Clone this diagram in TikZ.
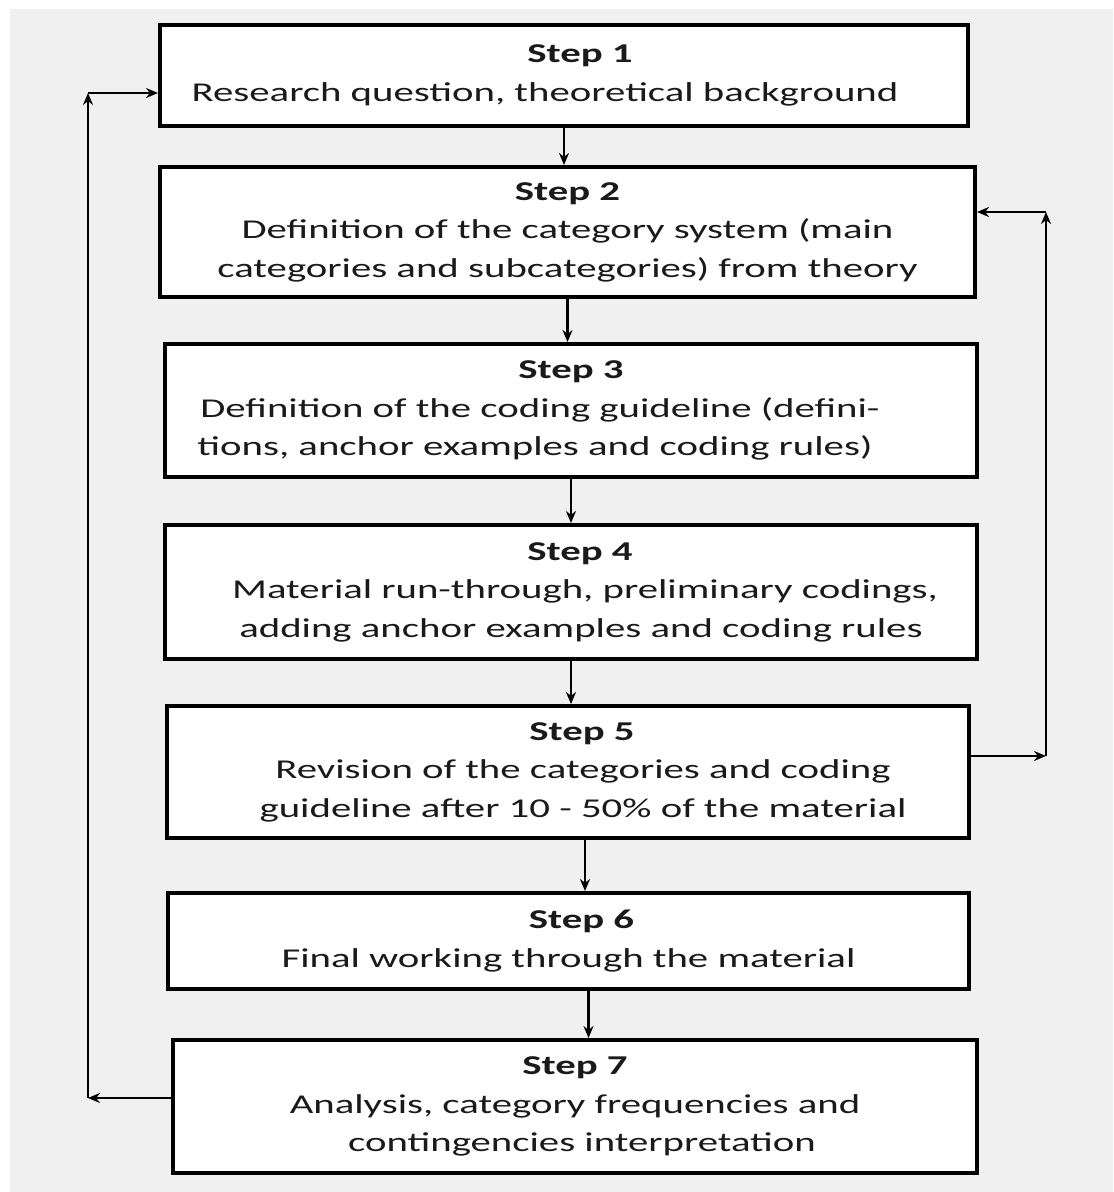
\documentclass[tikz,border=0pt]{standalone}
\usepackage{fontspec}
\setmainfont{Carlito}[FakeStretch=1.5]
\usetikzlibrary{arrows.meta}
\definecolor{bggray}{HTML}{F0F0F0}
\definecolor{txtgray}{HTML}{1A1A1A}
\tikzset{
  stepbox/.style={draw,line width=2pt,fill=white,inner sep=0pt,align=center,
    text=txtgray,font=\fontsize{13.6}{19.25}\selectfont},
  flow/.style={->,line width=1.2pt}
}
\newcommand{\lsh}[1]{\hbox to #1{}}
\begin{document}
\begin{tikzpicture}[>={Stealth[length=6pt,width=5pt]},x=0.5pt,y=-0.5pt]
		\fill[white] (0,0) rectangle (1113,1192);
		\fill[bggray] (10,9) rectangle (1113,1192);
		\node[stepbox,minimum width=404pt,minimum height=50.5pt] (s1) at (564,75.5) {\lsh{16pt}\textbf{Step 1}\\Research question, theoretical background\lsh{19pt}};
		\node[stepbox,minimum width=407.5pt,minimum height=65pt] (s2) at (567.5,232) {\textbf{Step 2}\\Definition of the category system (main\\categories and subcategories) from theory};
		\node[stepbox,minimum width=406pt,minimum height=66.5pt] (s3) at (571,410.5) {\textbf{Step 3}\\Definition of the coding guideline (defini-\lsh{31pt}\\tions, anchor examples and coding rules)\lsh{36pt}};
		\node[stepbox,minimum width=406pt,minimum height=67pt] (s4) at (571,592) {\lsh{9pt}\textbf{Step 4}\\\lsh{14pt}Material run-through, preliminary codings,\\\lsh{10pt}adding anchor examples and coding rules};
		\node[stepbox,minimum width=401pt,minimum height=66pt] (s5) at (568,772) {\lsh{14pt}\textbf{Step 5}\\\lsh{15pt}Revision of the categories and coding\\\lsh{15pt}guideline after 10 - 50\% of the material};
		\node[stepbox,minimum width=400.5pt,minimum height=48pt] (s6) at (568.5,941) {\lsh{13pt}\textbf{Step 6}\\Final working through the material};
		\node[stepbox,minimum width=402pt,minimum height=66.5pt] (s7) at (575,1106.5) {\textbf{Step 7}\\Analysis, category frequencies and\\\lsh{7pt}contingencies interpretation};
		% step to step
		\draw[flow] (s1.south) -- (s1.south |- s2.north);
		\draw[flow] (s2.south) -- (s2.south |- s3.north);
		\draw[flow] (s3.south) -- (s3.south |- s4.north);
		\draw[flow] (s4.south) -- (s4.south |- s5.north);
		\draw[flow] ([xshift=8.5pt]s5.south) -- ([xshift=8.5pt]s5.south |- s6.north);
		\draw[flow] ([xshift=10pt]s6.south) -- ([xshift=10pt]s6.south |- s7.north);
		% feedback loops
		\coordinate (lb) at (88,1098);
		\coordinate (lt) at (88,93);
		\coordinate (rb) at (1046,756);
		\coordinate (rt) at (1046,212);
		\draw[flow] (s7.west |- lb) -- (lb);
		\draw[flow] (lb) -- (lt);
		\draw[flow] (lt) -- (lt -| s1.west);
		\draw[flow] (s5.east |- rb) -- (rb);
		\draw[flow] (rb) -- (rt);
		\draw[flow] (rt) -- (rt -| s2.east);
		\end{tikzpicture}
\end{document}
